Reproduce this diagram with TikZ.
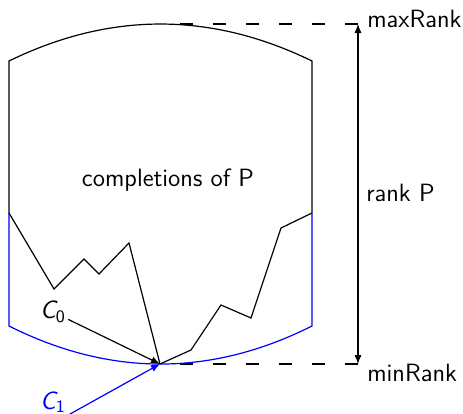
\documentclass[tikz,border=0pt]{standalone}
\usetikzlibrary{arrows.meta,calc}
\begin{document}
\begin{tikzpicture}[x=0.5pt,y=-0.5pt,
  lbl/.style={font=\fontsize{12.5}{15}\selectfont\sffamily,inner sep=1pt},
  edge/.style={line width=0.6pt},
  tip/.style={-{Latex[length=4.5pt,width=3.6pt]}},
  dsh/.style={line width=0.6pt,dash pattern=on 6.5pt off 10pt}]
\useasboundingbox (0,0) rectangle (463,414);
% key points
\coordinate (tl) at (9,61);
\coordinate (tr) at (312,61);
\coordinate (ml) at (9,213);
\coordinate (mr) at (312,213);
\coordinate (bl) at (9,326);
\coordinate (br) at (312,326);
\coordinate (topc) at (160,24);
\coordinate (bot) at (160,364);
\coordinate (amax) at (358,24);
\coordinate (amin) at (358,364);
% left zigzag
\coordinate (l1) at (54,289);
\coordinate (l2) at (84,259);
\coordinate (l3) at (99,274);
\coordinate (l4) at (129,243);
% right zigzag
\coordinate (r1) at (191,350);
\coordinate (r2) at (221,305);
\coordinate (r3) at (251,318);
\coordinate (r4) at (281,228);
% dashed level lines
\draw[dsh] (amax) -- (topc);
\draw[dsh] (amin) -- (bot);
% black shape
\draw[edge] (ml) -- (tl) .. controls (110,11.7) and (211,11.7) .. (tr) -- (mr);
% blue shape
\draw[edge,blue] (ml) -- (bl) .. controls (110,376.7) and (211,376.7) .. (br) -- (mr);
% zigzags
\draw[edge] (ml) -- (l1) -- (l2) -- (l3) -- (l4) -- (bot);
\draw[edge] (bot) -- (r1) -- (r2) -- (r3) -- (r4) -- (mr);
% rank arrow
\draw[edge,{Latex[length=4.5pt,width=3.6pt]}-{Latex[length=4.5pt,width=3.6pt]}] (amax) -- (amin);
% labels
\node[lbl] (compl) at (168,180) {completions of P};
\node[lbl,anchor=west] (maxr) at (365,19) {maxRank};
\node[lbl,anchor=west] (minr) at (365,373) {minRank};
\node[lbl,anchor=west] (rankp) at (364,193) {rank P};
\node[lbl] (c0) at (53,312) {{\slshape C}\textsubscript{0}};
\node[lbl,text=blue] (c1) at (53,402) {{\slshape C}\textsubscript{1}};
\draw[edge,tip] (c0) -- (bot);
\draw[edge,tip,blue] (c1.south east) -- (bot);
\end{tikzpicture}
\end{document}
